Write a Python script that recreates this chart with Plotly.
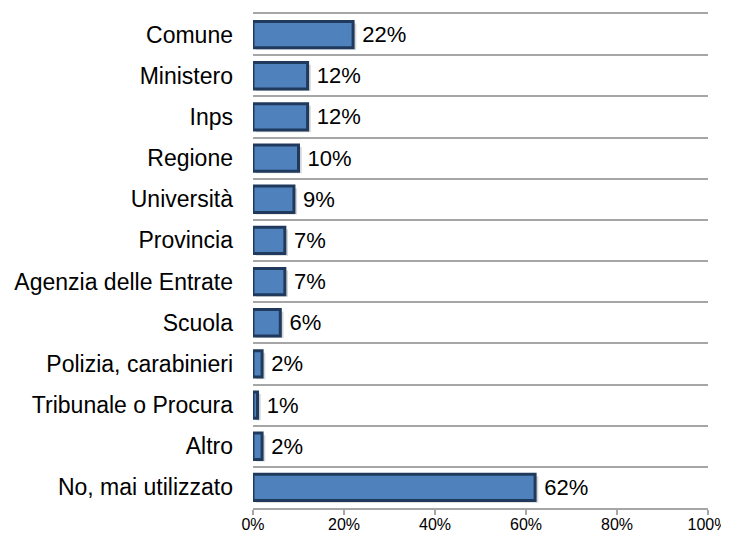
import plotly.graph_objects as go

categories = ["Comune", "Ministero", "Inps", "Regione", "Università", "Provincia",
              "Agenzia delle Entrate", "Scuola", "Polizia, carabinieri",
              "Tribunale o Procura", "Altro", "No, mai utilizzato"]
values = [22, 12, 12, 10, 9, 7, 7, 6, 2, 1, 2, 62]
labels = [f" {v}%" for v in values]
x_ticks = [0, 20, 40, 60, 80, 100]
x_tick_labels = ["0%", "20%", "40%", "60%", "80%", "100%"]

fig = go.Figure()
# soft drop shadow behind bars
fig.add_trace(go.Bar(
    y=categories, x=values, orientation="h", base=0.7,
    width=0.64, offset=-0.27,
    marker=dict(color="rgba(0,0,0,0.16)", line=dict(width=0)),
    hoverinfo="skip",
))
fig.add_trace(go.Bar(
    y=categories, x=values, orientation="h",
    width=0.64, offset=-0.32,
    marker=dict(color="#4F81BD", line=dict(color="#1F3A5C", width=3)),
    text=labels, textposition="outside", cliponaxis=False,
    textfont=dict(family="Liberation Sans, Arial", size=22, color="black"),
))

fig.update_layout(
    width=721, height=527,
    margin=dict(l=245, r=21, t=6, b=27),
    barmode="overlay",
    plot_bgcolor="white", paper_bgcolor="white",
    showlegend=False,
    font=dict(family="Liberation Sans, Arial", color="black"),
    xaxis=dict(range=[0, 100], tickvals=x_ticks, ticktext=x_tick_labels,
               showgrid=False, zeroline=False, automargin=False,
               showline=True, mirror=True, linecolor="#A6A6A6", linewidth=1.5,
               ticks="outside", tickcolor="#A6A6A6", ticklen=5, tickwidth=1.5,
               ticklabelstandoff=-4,
               tickfont=dict(size=16, color="black")),
    yaxis=dict(autorange="reversed", type="category", automargin=False,
               tickson="boundaries", showgrid=True, gridcolor="#A6A6A6", gridwidth=1.5,
               ticks="", showline=False, zeroline=False,
               ticklabelstandoff=19,
               tickfont=dict(size=23, color="black")),
)

fig.write_html("out.html")
